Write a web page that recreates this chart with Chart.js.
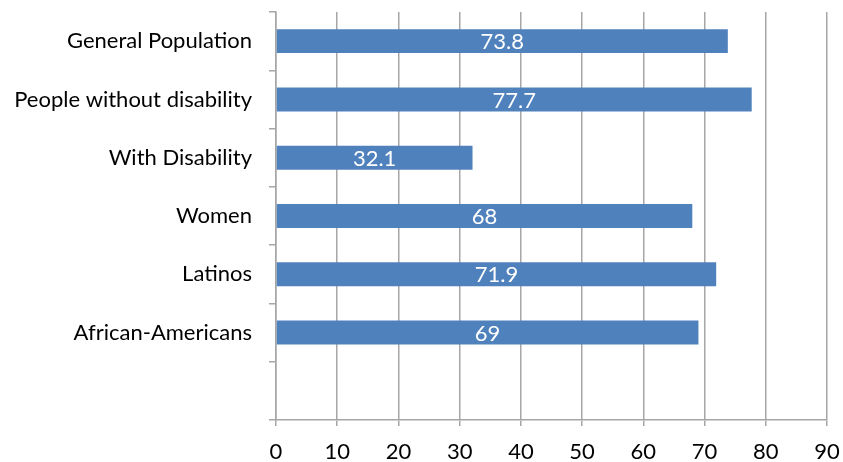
<!DOCTYPE html>
<html>
<head>
<meta charset="utf-8">
<script src="https://cdn.jsdelivr.net/npm/chart.js@4/dist/chart.umd.min.js"></script>
<style>
  html, body { margin: 0; padding: 0; background: #fff; }
  #wrap { width: 843px; height: 462px; }
</style>
</head>
<body>
<div id="wrap"><canvas id="grafico"></canvas></div>
<script>
// categorias (la ultima vacia, como en el original)
const categorias = [
  "General Population",
  "People without disability",
  "With Disability",
  "Women",
  "Latinos",
  "African-Americans",
  "",
];
const valores = [73.8, 77.7, 32.1, 68, 71.9, 69, null];
const ticksX = [0, 10, 20, 30, 40, 50, 60, 70, 80, 90];

const FUENTE = "Lato";
const GRIS = "#a6a6a6";

// etiquetas blancas centradas dentro de cada barra
const etiquetasBarras = {
  id: "etiquetasBarras",
  afterDatasetsDraw(chart) {
    const { ctx } = chart;
    const meta = chart.getDatasetMeta(0);
    ctx.save();
    ctx.fillStyle = "#ffffff";
    ctx.font = `22px ${FUENTE}`;
    ctx.textAlign = "center";
    ctx.textBaseline = "middle";
    meta.data.forEach((barra, i) => {
      if (valores[i] == null) return;
      const x = (barra.x + barra.base) / 2;
      ctx.fillText(String(valores[i]), x, barra.y + 1);
    });
    ctx.restore();
  },
};

new Chart(document.getElementById("grafico"), {
  type: "bar",
  data: {
    labels: categorias,
    datasets: [
      {
        data: valores,
        backgroundColor: "#4f81bd",
        borderWidth: 0,
        barPercentage: 0.41,
        categoryPercentage: 1,
      },
    ],
  },
  options: {
    indexAxis: "y",
    responsive: true,
    maintainAspectRatio: false,
    animation: false,
    layout: { padding: { top: 12, right: 16, left: 0, bottom: 0 } },
    scales: {
      x: {
        min: 0,
        max: 90,
        afterBuildTicks: (escala) => {
          escala.ticks = ticksX.map((v) => ({ value: v }));
        },
        afterFit: (escala) => {
          escala.height = 42;
          escala.paddingLeft = 0;
          escala.paddingRight = 0;
        },
        grid: { color: GRIS, lineWidth: 1.5, tickLength: 6 },
        border: { color: GRIS, width: 1.5 },
        ticks: {
          color: "#000",
          padding: 13,
          font: { family: FUENTE, size: 22 },
        },
      },
      y: {
        afterFit: (escala) => {
          escala.width = 276;
          escala.paddingTop = 0;
          escala.paddingBottom = 0;
        },
        grid: { drawOnChartArea: false, color: GRIS, lineWidth: 1.5, tickLength: 7 },
        border: { color: GRIS, width: 1.5 },
        ticks: {
          color: "#000",
          padding: 17,
          autoSkip: false,
          font: { family: FUENTE, size: 22 },
        },
      },
    },
    plugins: {
      legend: { display: false },
      tooltip: { enabled: false },
    },
  },
  plugins: [etiquetasBarras],
});
</script>
</body>
</html>
